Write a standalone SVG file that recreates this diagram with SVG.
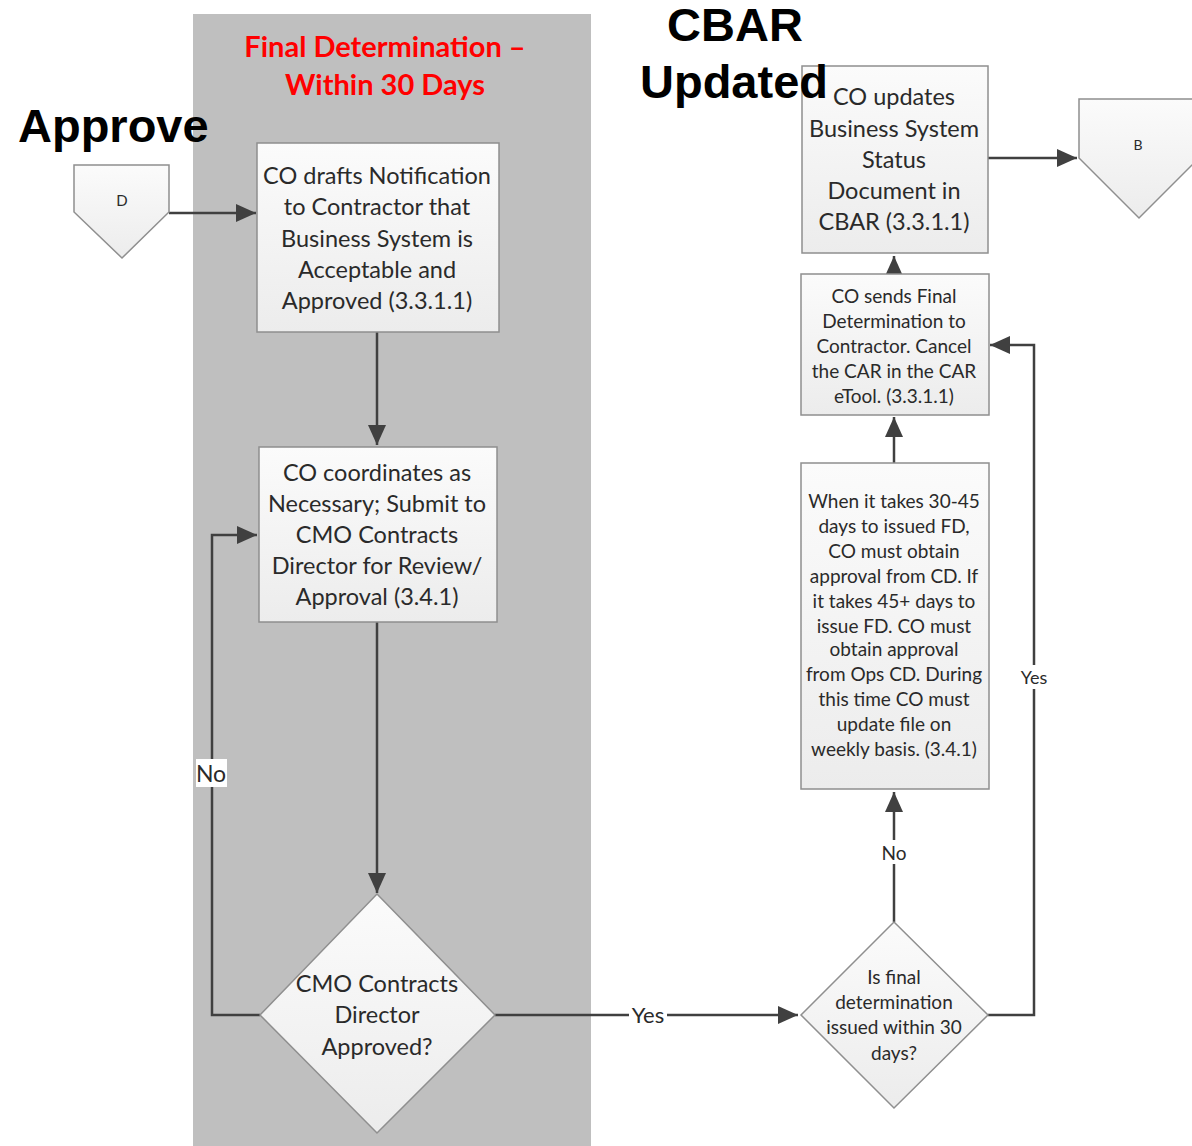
<svg xmlns="http://www.w3.org/2000/svg" width="1192" height="1146" viewBox="0 0 1192 1146">
<defs>
<linearGradient id="g" x1="0" y1="0" x2="0" y2="1"><stop offset="0" stop-color="#fbfbfb"/><stop offset="1" stop-color="#ececec"/></linearGradient>
<marker id="a" viewBox="0 0 10 10" refX="10" refY="5" markerWidth="8" markerHeight="8" orient="auto" markerUnits="strokeWidth"><path d="M0,0.5 L10,5 L0,9.5 z" fill="#404040"/></marker>
</defs>
<style>
.lane{fill:#bfbfbf}
.box{fill:url(#g);stroke:#8f8f8f;stroke-width:1.5}
.t{font-family:Lato,"Open Sans",sans-serif;fill:#2a2a2a;text-anchor:middle;dominant-baseline:central}
.big{font-size:23.5px}
.sm{font-size:19px}
.lbl{font-family:Lato,"Open Sans",sans-serif;font-size:20px;fill:#2a2a2a;text-anchor:middle;dominant-baseline:central}
.head{font-family:"Liberation Sans",Arial,sans-serif;font-weight:bold;font-size:47px;fill:#000}
.red{font-family:Lato,"Open Sans",sans-serif;font-weight:bold;font-size:29px;fill:#ff0000;text-anchor:middle}
.c{fill:none;stroke:#404040;stroke-width:2.5}
</style>
<rect class="lane" x="193" y="14" width="398" height="1132"/>
<text class="red" x="385" y="57">Final Determination –</text>
<text class="red" x="385" y="95">Within 30 Days</text>

<g id="connectors">
<path class="c" d="M169,213 H256" marker-end="url(#a)"/>
<path class="c" d="M377,332 V445" marker-end="url(#a)"/>
<path class="c" d="M377,622 V893" marker-end="url(#a)"/>
<path class="c" d="M260,1015 H212 V535 H257" marker-end="url(#a)"/>
<path class="c" d="M495,1015 H798" marker-end="url(#a)"/>
<path class="c" d="M894,922 V792" marker-end="url(#a)"/>
<path class="c" d="M988,1015 H1034 V345 H990" marker-end="url(#a)"/>
<path class="c" d="M894,463 V417" marker-end="url(#a)"/>
<path class="c" d="M894,274 V256" marker-end="url(#a)"/>
<path class="c" d="M988,158 H1077" marker-end="url(#a)"/>
<rect x="196" y="759" width="31" height="28" fill="#fff"/>
<text class="lbl" x="211" y="773" style="font-size:23px">No</text>
<rect x="629" y="1003" width="38" height="24" fill="#fff"/>
<text class="lbl" x="648" y="1014" style="font-size:22px">Yes</text>
<rect x="880" y="840" width="28" height="24" fill="#fff"/>
<text class="lbl" x="894" y="852" style="font-size:19px">No</text>
<rect x="1018" y="665" width="32" height="24" fill="#fff"/>
<text class="lbl" x="1034" y="677" style="font-size:18px">Yes</text>
</g>

<g id="nodeD">
<path class="box" d="M74,165 H169 V212 L122,258 L74,212 Z"/>
<text class="t" x="122" y="200" style="font-size:15px">D</text>
</g>
<g id="nodeB">
<path class="box" d="M1079,99 H1199 V158 L1139,218 L1079,158 Z"/>
<text class="t" x="1138" y="144" style="font-size:14px">B</text>
</g>
<g id="box1">
<rect class="box" x="257" y="143" width="242" height="189"/>
<text class="t big" x="377" y="175">CO drafts Notification</text>
<text class="t big" x="377" y="206">to Contractor that</text>
<text class="t big" x="377" y="238">Business System is</text>
<text class="t big" x="377" y="269">Acceptable and</text>
<text class="t big" x="377" y="300">Approved (3.3.1.1)</text>
</g>
<g id="box2">
<rect class="box" x="259" y="447" width="238" height="175"/>
<text class="t big" x="377" y="472">CO coordinates as</text>
<text class="t big" x="377" y="503">Necessary; Submit to</text>
<text class="t big" x="377" y="534">CMO Contracts</text>
<text class="t big" x="377" y="565">Director for Review/</text>
<text class="t big" x="377" y="596">Approval (3.4.1)</text>
</g>
<g id="dec1">
<path class="box" d="M377,894 L495,1015 L377,1133 L260,1015 Z"/>
<text class="t big" x="377" y="983">CMO Contracts</text>
<text class="t big" x="377" y="1014">Director</text>
<text class="t big" x="377" y="1046">Approved?</text>
</g>
<g id="dec2">
<path class="box" d="M894,922 L988,1015 L894,1108 L801,1015 Z"/>
<text class="t sm" x="894" y="976">Is final</text>
<text class="t sm" x="894" y="1001">determination</text>
<text class="t sm" x="894" y="1026">issued within 30</text>
<text class="t sm" x="894" y="1052">days?</text>
</g>
<g id="box3">
<rect class="box" x="801" y="463" width="188" height="326"/>
<text class="t sm" x="894" y="500">When it takes 30-45</text>
<text class="t sm" x="894" y="525">days to issued FD,</text>
<text class="t sm" x="894" y="550">CO must obtain</text>
<text class="t sm" x="894" y="575">approval from CD. If</text>
<text class="t sm" x="894" y="600">it takes 45+ days to</text>
<text class="t sm" x="894" y="625">issue FD. CO must</text>
<text class="t sm" x="894" y="648">obtain approval</text>
<text class="t sm" x="894" y="673">from Ops CD. During</text>
<text class="t sm" x="894" y="698">this time CO must</text>
<text class="t sm" x="894" y="723">update file on</text>
<text class="t sm" x="894" y="748">weekly basis. (3.4.1)</text>
</g>
<g id="box4">
<rect class="box" x="801" y="274" width="188" height="141"/>
<text class="t sm" x="894" y="295">CO sends Final</text>
<text class="t sm" x="894" y="320">Determination to</text>
<text class="t sm" x="894" y="345">Contractor. Cancel</text>
<text class="t sm" x="894" y="370">the CAR in the CAR</text>
<text class="t sm" x="894" y="395">eTool. (3.3.1.1)</text>
</g>
<g id="box5">
<rect class="box" x="802" y="66" width="186" height="187"/>
<text class="t big" x="894" y="96">CO updates</text>
<text class="t big" x="894" y="128">Business System</text>
<text class="t big" x="894" y="159">Status</text>
<text class="t big" x="894" y="190">Document in</text>
<text class="t big" x="894" y="221">CBAR (3.3.1.1)</text>
</g>
<text class="head" x="18" y="142">Approve</text>
<text class="head" x="735" y="41" text-anchor="middle">CBAR</text>
<text class="head" x="640" y="98">Updated</text>
</svg>
